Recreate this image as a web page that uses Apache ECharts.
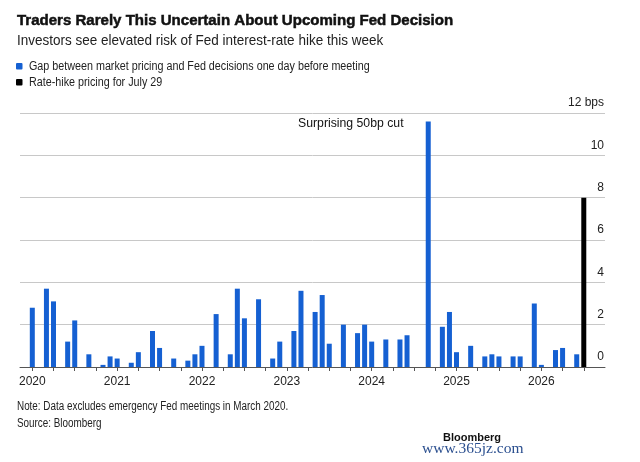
<!DOCTYPE html>
<html>
<head>
<meta charset="utf-8">
<script src="https://cdn.jsdelivr.net/npm/echarts@6/dist/echarts.min.js"></script>
<style>
  html, body { margin: 0; padding: 0; background: #fff; }
  #chart { width: 640px; height: 462px; }
</style>
</head>
<body>
<div id="chart"></div>
<script>
var FONT = "'Liberation Sans', Arial, sans-serif";

// Fed meetings (year-month) and the gap in bps one day before each meeting
var meetingDates = [
  '2020-01', '2020-03', '2020-04', '2020-06', '2020-07', '2020-09', '2020-11', '2020-12',
  '2021-01', '2021-03', '2021-04', '2021-06', '2021-07', '2021-09', '2021-11', '2021-12',
  '2022-01', '2022-03', '2022-05', '2022-06', '2022-07', '2022-09', '2022-11', '2022-12',
  '2023-02', '2023-03', '2023-05', '2023-06', '2023-07', '2023-09', '2023-11', '2023-12',
  '2024-01', '2024-03', '2024-05', '2024-06', '2024-09', '2024-11', '2024-12',
  '2025-01', '2025-03', '2025-05', '2025-06', '2025-07', '2025-09', '2025-10', '2025-12',
  '2026-01', '2026-03', '2026-04', '2026-06'
];
var gapBps = [
  2.8, 3.7, 3.1, 1.2, 2.2, 0.6, 0.1, 0.5,
  0.4, 0.2, 0.7, 1.7, 0.9, 0.4, 0.3, 0.6,
  1.0, 2.5, 0.6, 3.7, 2.3, 3.2, 0.4, 1.2,
  1.7, 3.6, 2.6, 3.4, 1.1, 2.0, 1.6, 2.0,
  1.2, 1.3, 1.3, 1.5, 11.6, 1.9, 2.6,
  0.7, 1.0, 0.5, 0.6, 0.5, 0.5, 0.5, 3.0,
  0.1, 0.8, 0.9, 0.6
];
var hikeDate = ['2026-07'];
var hikeBps = [8];

var yearLabels = [2020, 2021, 2022, 2023, 2024, 2025, 2026];

var gapName = 'Gap between market pricing and Fed decisions one day before meeting';
var hikeName = 'Rate-hike pricing for July 29';

var BLUE = '#1560d2';

// months since Jan 2020, for the value x axis
var monthIndex = function(s){
  var p = s.split('-');
  return (parseInt(p[0], 10) - 2020) * 12 + parseInt(p[1], 10) - 1;
};

var gapData = [];
for (var i = 0; i < meetingDates.length; i++) {
  gapData.push([monthIndex(meetingDates[i]), gapBps[i]]);
}
var hikeData = [];
for (var i = 0; i < hikeDate.length; i++) {
  hikeData.push([monthIndex(hikeDate[i]), hikeBps[i]]);
}

var yearTicks = [];
for (var i = 0; i < yearLabels.length; i++) {
  yearTicks.push((yearLabels[i] - 2020) * 12);
}
var quarterTicks = [];
for (var m = 0; m <= 78; m += 3) {
  quarterTicks.push(m);
}

// narrow-ish text: the Bloomberg face is tighter than Liberation Sans
var txt = function(str, x, y, size, sx, extra){
  var style = { text: str, fontFamily: FONT, fontSize: size, fill: '#222', align: 'left', verticalAlign: 'middle' };
  for (var k in (extra || {})) { style[k] = extra[k]; }
  return { type: 'text', x: x, y: y, scaleX: sx, style: style, silent: true };
};

var myChart = echarts.init(document.getElementById('chart'), null, { renderer: 'canvas' });

var option = {
  backgroundColor: '#fff',
  animation: false,
  grid: { left: 20, right: 35, top: 113, bottom: 95 },
  xAxis: {
    type: 'value',
    min: -1.74,
    max: 81,
    splitLine: { show: false },
    axisLine: { show: true, lineStyle: { color: '#555', width: 1 } },
    axisTick: { show: true, customValues: quarterTicks, length: 4, lineStyle: { color: '#555' } },
    axisLabel: {
      customValues: yearTicks,
      margin: 9,
      fontFamily: FONT,
      fontSize: 12,
      color: '#222',
      formatter: function(v){ return String(2020 + Math.round(v / 12)); }
    }
  },
  yAxis: {
    type: 'value',
    position: 'right',
    min: 0,
    max: 12,
    interval: 2,
    axisLine: { show: false },
    axisTick: { show: false },
    splitLine: { lineStyle: { color: '#c8c8c8', width: 1 } },
    axisLabel: {
      inside: true,
      margin: 1,
      verticalAlign: 'bottom',
      lineHeight: 20,
      fontFamily: FONT,
      fontSize: 12,
      color: '#222',
      formatter: function(v){ return v === 12 ? '12 bps' : String(v); }
    }
  },
  series: [
    {
      name: gapName,
      type: 'bar',
      barWidth: 5,
      barGap: '-100%',
      itemStyle: { color: BLUE },
      data: gapData
    },
    {
      name: hikeName,
      type: 'bar',
      barWidth: 5,
      barGap: '-100%',
      itemStyle: { color: '#000' },
      data: hikeData
    }
  ],
  graphic: [
    txt('Traders Rarely This Uncertain About Upcoming Fed Decision', 17, 20.5, 15.2, 0.99,
        { fontWeight: 'bold', fill: '#111', stroke: '#111', lineWidth: 0.5 }),
    txt('Investors see elevated risk of Fed interest-rate hike this week', 17, 41, 15, 0.9),
    { type: 'rect', x: 16, y: 63, shape: { width: 6.5, height: 6.5, r: 1 }, style: { fill: BLUE }, silent: true },
    txt(gapName, 29, 66.5, 12.5, 0.86),
    { type: 'rect', x: 16, y: 79, shape: { width: 6.5, height: 6.5, r: 1 }, style: { fill: '#000' }, silent: true },
    txt(hikeName, 29, 82.5, 12.5, 0.86),
    txt('Surprising 50bp cut', 298, 123.5, 12.5, 0.98, { fill: '#111' }),
    txt('Note: Data excludes emergency Fed meetings in March 2020.', 17, 407, 12.5, 0.79),
    txt('Source: Bloomberg', 17, 424, 12.5, 0.79),
    txt('Bloomberg', 443, 438, 11, 1, { fontWeight: 'bold', fill: '#111' }),
    txt('www.365jz.com', 422, 449, 15.5, 1, { fontFamily: "'Liberation Serif', 'DejaVu Serif', serif", fill: '#2b4f8f' })
  ]
};
myChart.setOption(option);
</script>
</body>
</html>
